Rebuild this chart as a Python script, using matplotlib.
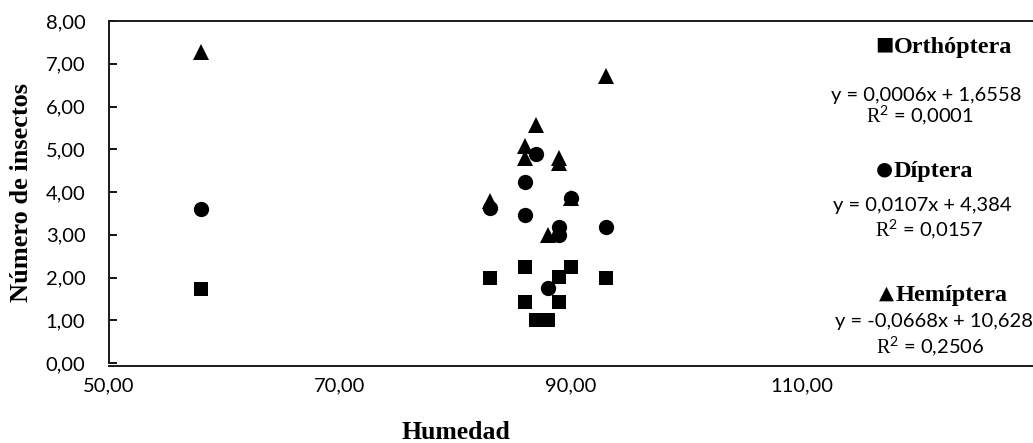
import matplotlib
matplotlib.use("Agg")
import matplotlib.pyplot as plt

# ---- data ----
humedad = [58, 83, 86, 86, 87, 88, 89, 89, 90, 93]
orthoptera = [1.73, 2.00, 2.25, 1.43, 1.00, 1.00, 2.02, 1.43, 2.25, 2.00]
diptera_x = [58, 83, 86, 86, 87, 88, 89, 89, 90, 93]
diptera = [3.60, 3.62, 4.24, 3.46, 4.90, 1.75, 3.17, 3.00, 3.87, 3.17]
hemiptera_x = [58, 83, 86, 86, 87, 88, 89, 89, 90, 93]
hemiptera = [7.27, 3.78, 5.08, 4.80, 5.57, 3.00, 4.80, 4.68, 3.85, 6.72]

x_ticks = [50, 70, 90, 110]
y_ticks = [0, 1, 2, 3, 4, 5, 6, 7, 8]

symbols = ["■", "●", "▲"]
labels = ["Orthóptera", "Díptera", "Hemíptera"]
equations = ["y = 0,0006x + 1,6558", "y = 0,0107x + 4,384", "y = -0,0668x + 10,628"]
r2 = ["0,0001", "0,0157", "0,2506"]

plt.rcParams['mathtext.fontset'] = 'custom'
plt.rcParams['mathtext.rm'] = 'Liberation Serif'
plt.rcParams['mathtext.sf'] = 'Lato'

W, H = 1033, 443
fig = plt.figure(figsize=(W / 100, H / 100), dpi=100)
ax = fig.add_axes([109 / W, (H - 363) / H, (W - 109) / W, (363 - 21) / H])

ax.spines['right'].set_visible(False)
ax.spines['bottom'].set_position(('outward', 2))
for s in ['left', 'top', 'bottom']:
    ax.spines[s].set_linewidth(1.4)
    ax.spines[s].set_color('#1a1a1a')

ax.plot(humedad, orthoptera, 's', color='black', ms=10.5, mew=0, zorder=3)
ax.plot(diptera_x, diptera, 'o', color='black', ms=11, mew=0, zorder=3)
ax.plot(hemiptera_x, hemiptera, '^', color='black', ms=11, mew=0, zorder=3)

ax.set_xlim(50, 130)
ax.set_ylim(0, 8)
ax.set_xticks(x_ticks)
ax.set_yticks(y_ticks)
ax.set_xticklabels([f"{v:.2f}".replace('.', ',') for v in x_ticks],
                   fontfamily='Lato', fontsize=14.5)
ax.set_yticklabels([f"{v:.2f}".replace('.', ',') for v in y_ticks],
                   fontfamily='Lato', fontsize=14.5)
ax.tick_params(axis='x', length=0, pad=8)
ax.tick_params(axis='y', direction='in', length=6, width=1.3, pad=17)

ax.set_xlabel("Humedad", fontfamily='Liberation Serif', fontweight='bold', fontsize=18.5)
ax.xaxis.set_label_coords((456 - 109) / 924, (363 - 421) / 342)
ax.set_ylabel("Número de insectos", fontfamily='Liberation Serif', fontweight='bold', fontsize=19)
ax.yaxis.set_label_coords((33 - 109) / 924, 0.5)

def fx(px):
    return px / W

def fy(py):
    return 1 - py / H

sym_pos = [(884, 44), (884, 169), (886, 293)]
label_pos = [(894, 47), (894, 171), (896, 296)]
eq_pos = [(926, 96), (922, 206), (934, 322)]
r2_pos = [(920, 116), (929, 230), (930, 347)]

for sym, (sx, sy) in zip(symbols, sym_pos):
    fig.text(fx(sx), fy(sy), sym, ha='center', va='center', fontsize=14,
             family=['DejaVu Sans'])
for lab, (lx, ly) in zip(labels, label_pos):
    fig.text(fx(lx), fy(ly), lab, ha='left', va='center', fontsize=17.5,
             fontweight='bold', family=['Liberation Serif'])
for eq, (ex, ey) in zip(equations, eq_pos):
    fig.text(fx(ex), fy(ey), eq, ha='center', va='center', fontsize=14.5,
             fontfamily='Lato')
for r, (rx, ry) in zip(r2, r2_pos):
    fig.text(fx(rx), fy(ry), r"$\mathrm{R}^{\mathsf{2}}$ = " + r, ha='center',
             va='center', fontsize=14.5, fontfamily='Lato')

fig.savefig("out.png", dpi=100)
